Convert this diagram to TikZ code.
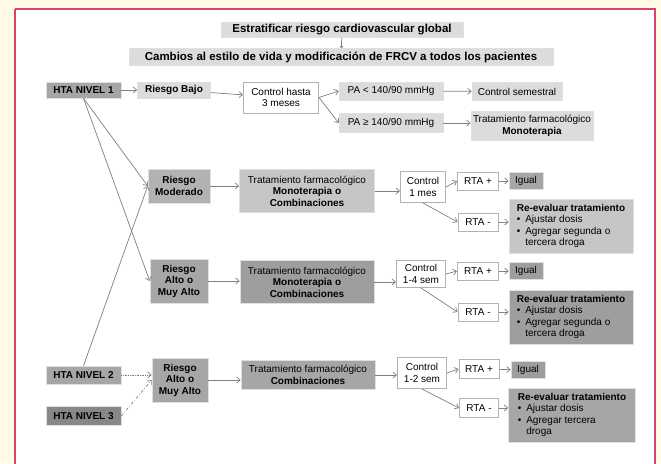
\documentclass[tikz,border=0pt]{standalone}
\usepackage{fontspec}
\setmainfont{Liberation Sans}
\usetikzlibrary{arrows.meta}
\definecolor{cream}{HTML}{FFFBE6}
\definecolor{frame}{HTML}{D6456B}
\definecolor{cA}{HTML}{DCDCDC}
\definecolor{cB}{HTML}{C6C6C6}
\definecolor{cC}{HTML}{B2B2B2}
\definecolor{cD}{HTML}{A6A6A6}
\definecolor{cE}{HTML}{9E9E9E}
\definecolor{cF}{HTML}{878787}
\newcommand\fsn{\fontsize{10}{11.5}\selectfont}
\newcommand\fhd{\fontsize{11.5}{13}\selectfont}
\tikzset{
  gbox/.style={draw=black!12, line width=0.6pt, inner sep=1pt, align=center, font=\fsn},
  wbox/.style={draw=black!30, fill=white, line width=1pt, inner sep=1pt, align=center, font=\fsn},
  arr/.style={draw=black!50, line width=0.7pt, -{Straight Barb[length=3.5pt,width=6pt]}},
}
\begin{document}
\begin{tikzpicture}[x=1pt,y=-1pt]
\useasboundingbox (0,0) rectangle (661,463);
\fill[cream] (0,0) rectangle (661,463);
\fill[white] (15,9) rectangle (655,470);
\draw[frame, line width=1.6pt] (15,9) -- (655,9) -- (655,470) (15,9) -- (15,470);

% headers
\node[gbox, fill=cA, font=\fhd\bfseries, minimum width=242pt, minimum height=15pt] (estr) at (342,30) {Estratificar riesgo cardiovascular global};
\node[gbox, fill=cA, font=\fhd\bfseries, minimum width=424pt, minimum height=17pt] (camb) at (341,57) {Cambios al estilo de vida y modificación de FRCV a todos los pacientes};
\draw[arr, -{Straight Barb[length=1.5pt,width=3pt]}] (estr) -- (camb);

% row 1
\node[gbox, fill=cD, font=\fsn\bfseries, minimum width=75pt, minimum height=16pt] (hta1) at (83.5,90) {HTA NIVEL 1};
\node[gbox, fill=cA, font=\fsn\bfseries, minimum width=73pt, minimum height=16pt] (bajo) at (174,90) {Riesgo Bajo};
\node[wbox, minimum width=75pt, minimum height=31pt] (ctrl0) at (281,97.5) {Control hasta\\3 meses};
\node[gbox, fill=cA, minimum width=104pt, minimum height=18pt] (pa1) at (391,91) {PA < 140/90 mmHg};
\node[gbox, fill=cA, minimum width=90pt, minimum height=18pt] (sem) at (517,91.5) {Control semestral};
\node[gbox, fill=cA, minimum width=104pt, minimum height=19pt] (pa2) at (391,123) {PA ≥ 140/90 mmHg};
\node[gbox, fill=cA, minimum width=122pt, minimum height=29pt] (tmono) at (532,126) {Tratamiento farmacológico\\\textbf{Monoterapia}};
\draw[arr] (hta1) -- (bajo);
\draw[arr] (bajo) -- (ctrl0);
\draw[arr] (ctrl0.east) -- (pa1.west);
\draw[arr] (ctrl0.east) -- (pa2.west);
\draw[arr] (pa1) -- (sem);
\draw[arr] (pa2) -- (pa2 -| tmono.west);

% row 2
\node[gbox, fill=cC, font=\fsn\bfseries, minimum width=62pt, minimum height=34pt] (mod) at (179,186) {Riesgo\\Moderado};
\node[gbox, fill=cB, minimum width=135pt, minimum height=43pt] (trat2) at (307,191) {Tratamiento farmacológico\\\textbf{Monoterapia o}\\\textbf{Combinaciones}};
\node[wbox, minimum width=45pt, minimum height=31pt] (c1) at (423,187) {Control\\1 mes};
\node[wbox, minimum width=41pt, minimum height=18pt] (rp2) at (478,181) {RTA +};
\node[gbox, fill=cD, minimum width=34pt, minimum height=17pt] (ig2) at (526,181) {Igual};
\node[wbox, minimum width=40pt, minimum height=18pt] (rm2) at (478,222) {RTA -};
\node[gbox, fill=cB, minimum width=124pt, minimum height=54pt] (re2) at (571,226) {\begin{tabular}{@{}l@{\hspace{5pt}}l@{}}\multicolumn{2}{@{}l@{}}{\textbf{Re-evaluar tratamiento}}\\ •&Ajustar dosis\\ •&Agregar segunda o\\ &tercera droga\end{tabular}};
\draw[arr] (mod.east) -- (mod.east -| trat2.west);
\draw[arr] (trat2.east) -- (trat2.east -| c1.west);
\draw[arr] (c1.east) -- (rp2.west);
\draw[arr] (c1.south) -- (rm2.west);
\draw[arr] (rp2) -- (ig2);
\draw[arr] (rm2.east) -- (rm2.east -| re2.west);

% row 3
\node[gbox, fill=cD, font=\fsn\bfseries, minimum width=58pt, minimum height=44pt] (alto3) at (179,281) {Riesgo\\Alto o\\Muy Alto};
\node[gbox, fill=cE, minimum width=134pt, minimum height=43pt] (trat3) at (307,282) {Tratamiento farmacológico\\\textbf{Monoterapia o}\\\textbf{Combinaciones}};
\node[wbox, minimum width=49pt, minimum height=27pt] (c3) at (421,274) {Control\\1-4 sem};
\node[wbox, minimum width=41pt, minimum height=18pt] (rp3) at (478,271) {RTA +};
\node[gbox, fill=cE, minimum width=34pt, minimum height=17pt] (ig3) at (526,271) {Igual};
\node[wbox, minimum width=40pt, minimum height=18pt] (rm3) at (478,312) {RTA -};
\node[gbox, fill=cE, minimum width=124pt, minimum height=54pt] (re3) at (571,317) {\begin{tabular}{@{}l@{\hspace{5pt}}l@{}}\multicolumn{2}{@{}l@{}}{\textbf{Re-evaluar tratamiento}}\\ •&Ajustar dosis\\ •&Agregar segunda o\\ &tercera droga\end{tabular}};
\draw[arr] (alto3.east) -- (alto3.east -| trat3.west);
\draw[arr] (trat3.east) -- (trat3.east -| c3.west);
\draw[arr] (c3.east) -- (rp3.west);
\draw[arr] (c3.south) -- (rm3.west);
\draw[arr] (rp3) -- (ig3);
\draw[arr] (rm3.east) -- (rm3.east -| re3.west);

% row 4
\node[gbox, fill=cD, font=\fsn\bfseries, minimum width=75pt, minimum height=18pt] (hta2) at (83.5,375) {HTA NIVEL 2};
\node[gbox, fill=cF, font=\fsn\bfseries, minimum width=75pt, minimum height=19pt] (hta3) at (83.5,416) {HTA NIVEL 3};
\node[gbox, fill=cD, font=\fsn\bfseries, minimum width=56pt, minimum height=44pt] (alto4) at (180,380) {Riesgo\\Alto o\\Muy Alto};
\node[gbox, fill=cD, minimum width=134pt, minimum height=29pt] (trat4) at (308,375) {Tratamiento farmacológico\\\textbf{Combinaciones}};
\node[wbox, minimum width=49pt, minimum height=31pt] (c4) at (422,373) {Control\\1-2 sem};
\node[wbox, minimum width=40pt, minimum height=19pt] (rp4) at (479,369) {RTA +};
\node[gbox, fill=cE, minimum width=34pt, minimum height=17pt] (ig4) at (528,370) {Igual};
\node[wbox, minimum width=39pt, minimum height=19pt] (rm4) at (479,408) {RTA -};
\node[gbox, fill=cD, minimum width=127pt, minimum height=54pt] (re4) at (572,415) {\begin{tabular}{@{}l@{\hspace{5pt}}l@{}}\multicolumn{2}{@{}l@{}}{\textbf{Re-evaluar tratamiento}}\\ •&Ajustar dosis\\ •&Agregar tercera\\ &droga\end{tabular}};
\draw[arr] (alto4.east) -- (alto4.east -| trat4.west);
\draw[arr] (trat4.east) -- (trat4.east -| c4.west);
\draw[arr] (c4.east) -- (rp4.west);
\draw[arr] (c4.south) -- (rm4.west);
\draw[arr] (rp4) -- (ig4);
\draw[arr] (rm4.east) -- (rm4.east -| re4.west);

% risk links
\draw[arr] (hta1.south) -- (mod.west);
\draw[arr] (hta1.south) -- (alto3.west);
\draw[arr] (hta2.north) -- (mod.west);
\draw[arr, densely dotted] (hta2.east) -- (hta2.east -| alto4.west);
\draw[arr, dash dot] (hta3.east) -- (alto4.west);
\end{tikzpicture}
\end{document}
